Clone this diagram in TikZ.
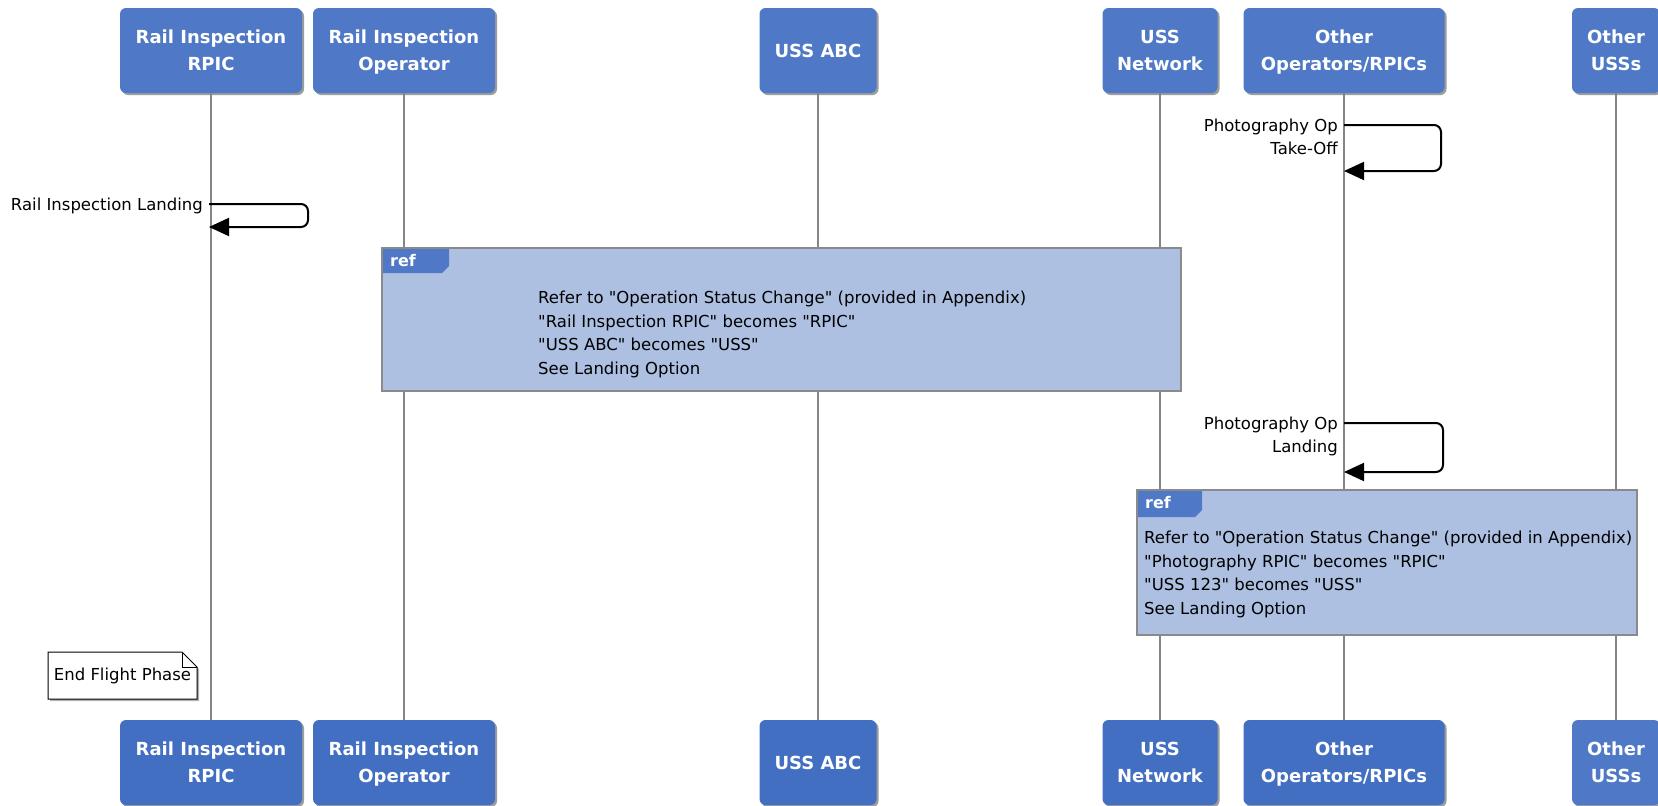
\documentclass[tikz,border=0pt]{standalone}
\usepackage{fontspec}
\setmainfont{DejaVu Sans}[Ligatures=TeXOff]
\usetikzlibrary{shadows,arrows.meta}

\definecolor{partblue}{HTML}{4F79C6}
\definecolor{partbluedark}{HTML}{426FC1}
\definecolor{refblue}{HTML}{ADC0E1}
\definecolor{lifegrey}{HTML}{858585}
\definecolor{refborder}{HTML}{8A8A8A}

% equal line boxes so that two-line titles sit at the same heights
\newcommand{\tl}{\rule[-7pt]{0pt}{27pt}}

\tikzset{
  part/.style={rounded corners=6pt, fill=partblue, text=white, align=center,
    font=\fontsize{18}{27}\selectfont\bfseries, minimum height=85pt, inner sep=0pt,
    drop shadow={shadow xshift=2pt, shadow yshift=-2pt, opacity=0.55, fill=black!70}},
  partbot/.style={part, fill=partbluedark},
  lifeline/.style={draw=lifegrey, line width=2pt},
  selfmsg/.style={draw=black, line width=2pt, rounded corners=7pt,
    -{Triangle[length=20pt,width=18pt]}},
  msglabel/.style={font=\fontsize{16.5}{23}\selectfont, inner sep=0pt, align=right},
  refframe/.style={fill=refblue, draw=refborder, line width=2pt},
  reftab/.style={fill=partblue, draw=none},
  reftag/.style={text=white, font=\fontsize{16}{18}\selectfont\bfseries, inner sep=0pt, anchor=west},
  reftext/.style={font=\fontsize{16.5}{23.5}\selectfont, align=left, inner sep=0pt, anchor=north west},
  notebox/.style={fill=white, draw=black, line width=1pt,
    drop shadow={shadow xshift=2pt, shadow yshift=-2pt, opacity=0.5, fill=black!60}}
}

\begin{document}
\begin{tikzpicture}[x=1pt, y=-1pt]
\useasboundingbox (0,0) rectangle (1658,806);

% participants, top row
\node[part, minimum width=182pt] (rpicT) at (211,50.5) {Rail Inspection\tl\\RPIC\tl};
\node[part, minimum width=182pt] (opT)   at (404,50.5) {Rail Inspection\tl\\Operator\tl};
\node[part, minimum width=117pt] (abcT)  at (818,50.5) {USS ABC};
\node[part, minimum width=115pt] (netT)  at (1160,50.5) {USS\tl\\Network\tl};
\node[part, minimum width=201pt] (othT)  at (1344,50.5) {Other\tl\\Operators/RPICs\tl};
\node[part, minimum width=88pt]  (ussT)  at (1616,50.5) {Other\tl\\USSs\tl};

% participants, bottom row
\node[partbot, minimum width=182pt] (rpicB) at (211,762.5) {Rail Inspection\tl\\RPIC\tl};
\node[partbot, minimum width=182pt] (opB)   at (404,762.5) {Rail Inspection\tl\\Operator\tl};
\node[partbot, minimum width=117pt] (abcB)  at (818,762.5) {USS ABC};
\node[partbot, minimum width=115pt] (netB)  at (1160,762.5) {USS\tl\\Network\tl};
\node[partbot, minimum width=201pt] (othB)  at (1344,762.5) {Other\tl\\Operators/RPICs\tl};
\node[part, minimum width=88pt]     (ussB)  at (1616,762.5) {Other\tl\\USSs\tl};

% lifelines
\foreach \p in {rpic,op,abc,net,oth,uss}
  \draw[lifeline] (\p T.south) -- (\p B.north);

% self message: photography take-off
\coordinate (tk1) at (1344,125);
\coordinate (tk2) at (1441,125);
\coordinate (tk3) at (1441,171);
\coordinate (tk4) at (1344,171);
\draw[selfmsg] (tk1) -- (tk2) -- (tk3) -- (tk4);
\node[msglabel, anchor=north east] (tklbl) at (1338,119) {Photography Op\\Take-Off};

% self message: rail inspection landing
\coordinate (rl1) at (209,204);
\coordinate (rl2) at (308,204);
\coordinate (rl3) at (308,227);
\coordinate (rl4) at (209,227);
\draw[selfmsg] (rl1) -- (rl2) -- (rl3) -- (rl4);
\node[msglabel, anchor=east] (rllbl) at (203,206) {Rail Inspection Landing};

% reference frame 1
\draw[refframe] (382,248) rectangle (1181,391);
\fill[reftab] (383,249) -- (449,249) -- (449,266) -- (442,273) -- (383,273) -- cycle;
\node[reftag] (ref1tag) at (390,261) {ref};
\node[reftext] (ref1txt) at (538,291) {Refer to "Operation Status Change" (provided in Appendix)\\"Rail Inspection RPIC" becomes "RPIC"\\"USS ABC" becomes "USS"\\See Landing Option};

% self message: photography landing
\coordinate (pl1) at (1344,423);
\coordinate (pl2) at (1443,423);
\coordinate (pl3) at (1443,472);
\coordinate (pl4) at (1344,472);
\draw[selfmsg] (pl1) -- (pl2) -- (pl3) -- (pl4);
\node[msglabel, anchor=north east] (pllbl) at (1338,417) {Photography Op\\Landing};

% reference frame 2
\draw[refframe] (1137,490) rectangle (1637,635);
\fill[reftab] (1138,491) -- (1202,491) -- (1202,510) -- (1195,517) -- (1138,517) -- cycle;
\node[reftag] (ref2tag) at (1145,503) {ref};
\node[reftext] (ref2txt) at (1144,531) {Refer to "Operation Status Change" (provided in Appendix)\\"Photography RPIC" becomes "RPIC"\\"USS 123" becomes "USS"\\See Landing Option};

% note
\draw[notebox] (48,652) -- (182,652) -- (197,667) -- (197,699) -- (48,699) -- cycle;
\draw[line width=1pt] (182,652) -- (182,667) -- (197,667);
\node[font=\fontsize{16.5}{18}\selectfont, inner sep=0pt] (note) at (122.5,676) {End Flight Phase};

\end{tikzpicture}
\end{document}
